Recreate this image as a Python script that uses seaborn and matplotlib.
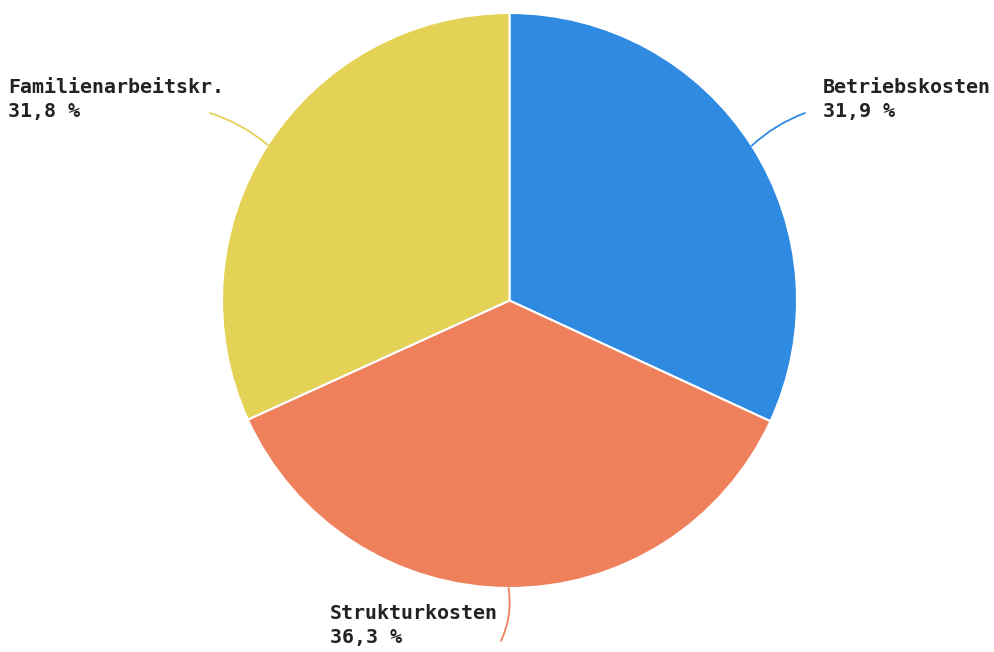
import numpy as np
import seaborn as sns
import matplotlib.pyplot as plt

sns.set_theme(style='white')
plt.rcParams['font.family'] = ['DejaVu Sans Mono', 'DejaVu Sans']

# data
labels = ['Betriebskosten', 'Strukturkosten', 'Familienarbeitskr.']
shares = [31.9, 36.3, 31.8]
colors = ['#2F8AE2', '#EF805C', '#E3D256']

W, H = 995, 652
fig = plt.figure(figsize=(W / 100, H / 100), dpi=100)
ax = fig.add_axes([0, 0, 1, 1])

cx, cy, r = 509.5, H - 300.5, 287.5
ax.pie(shares, colors=colors, startangle=90, counterclock=False,
       center=(cx, cy), radius=r, frame=True,
       wedgeprops=dict(edgecolor='white', linewidth=1.5))
ax.set_xlim(0, W)
ax.set_ylim(0, H)
ax.set_aspect('equal')
ax.axis('off')

# leader line ends and label anchors (pixel coords from top-left)
line_end = [(805, 113), (501, 641), (210, 113)]
rads = [0.1, 0.15, -0.1]
text_pos = [(823, 78), (330, 604), (8, 78)]

cum = np.cumsum([0] + shares)
for i, lab in enumerate(labels):
    mid = 90 - (cum[i] + shares[i] / 2) / 100 * 360
    px = cx + r * np.cos(np.radians(mid))
    py = cy + r * np.sin(np.radians(mid))
    ex, ey = line_end[i]
    ax.annotate('', xy=(px, py), xytext=(ex, H - ey),
                arrowprops=dict(arrowstyle='-', color=colors[i], lw=1.3,
                                shrinkA=0, shrinkB=0,
                                connectionstyle=f'arc3,rad={rads[i]}'))
    tx, ty = text_pos[i]
    pct = f'{shares[i]:.1f}'.replace('.', ',') + ' %'
    ax.text(tx, H - ty, lab + '\n' + pct,
            ha='left', va='top', fontsize=14.4, fontweight='bold',
            color='#222222', linespacing=1.35)

fig.savefig('out.png', dpi=100, facecolor='white')
